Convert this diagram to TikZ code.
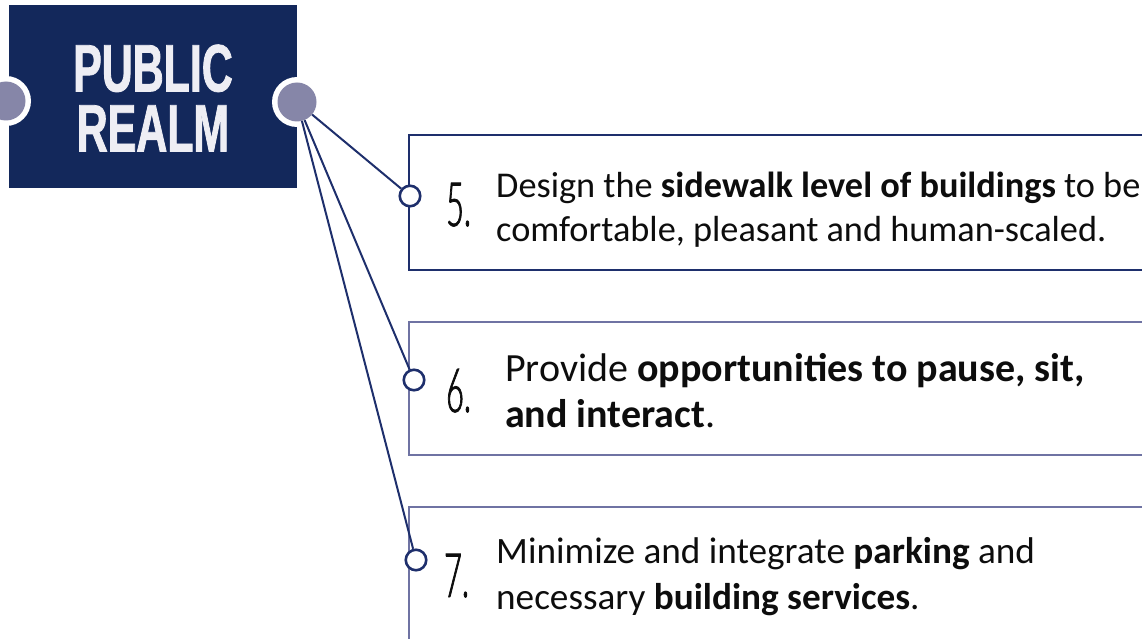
\documentclass[tikz,border=0pt]{standalone}
\usepackage{fontspec}
\setmainfont{Carlito}
\newfontfamily\titlefont[FakeStretch=0.64,FakeBold=1.2]{Liberation Sans}
\newfontfamily\numfont[FakeStretch=0.5,FakeBold=1.2]{Lato Light}
\definecolor{navy}{HTML}{13285B}
\definecolor{linec}{HTML}{1E2F6C}
\definecolor{greyc}{HTML}{8686A8}
\definecolor{lavb}{HTML}{6F73A3}
\definecolor{titlec}{HTML}{EEEEF4}
\definecolor{txt}{HTML}{0D0D0D}
\tikzset{
  box5style/.style={draw=linec, line width=2.6pt},
  boxlav/.style={draw=lavb, line width=2.6pt},
  ring/.style={circle, fill=white, minimum size=50pt, inner sep=0pt},
  knob/.style={circle, fill=greyc, minimum size=39pt, inner sep=0pt},
  smallc/.style={circle, draw=linec, line width=2.6pt, fill=white, minimum size=20.5pt, inner sep=0pt},
  conn/.style={draw=linec, line width=2pt},
  numtext/.style={anchor=base west, inner sep=0pt, font=\numfont\fontsize{61}{62}\selectfont, text=txt},
  bodytext/.style={anchor=base west, inner sep=0pt, font=\fontsize{36.3}{44}\selectfont, text=txt},
  bodysix/.style={anchor=base west, inner sep=0pt, font=\fontsize{40}{46}\selectfont, text=txt},
  bodyseven/.style={anchor=base west, inner sep=0pt, font=\fontsize{37.2}{46}\selectfont, text=txt},
  titletext/.style={anchor=center, align=center, inner sep=0pt, font=\titlefont\bfseries\fontsize{67}{60}\selectfont, text=titlec}
}
\begin{document}
\begin{tikzpicture}[x=1pt,y=-1pt]
\useasboundingbox (0,0) rectangle (1142,639);
\clip (0,0) rectangle (1142,639);
% title block
\fill[navy] (9,5) rectangle (297,188);
\node[titletext] (title) at (153,98) {PUBLIC\\REALM};
\node[ring] (lring) at (6,101) {};
\node[knob] (lknob) at (6,101) {};
\node[ring] (rring) at (297,102) {};
\node[knob] (rknob) at (297,102) {};
% boxes
\draw[box5style] (409,135) rectangle (1170,270);
\draw[boxlav] (409,322) rectangle (1170,455);
\draw[boxlav] (409,507) rectangle (1170,700);
% small circles
\node[smallc] (c5) at (410,196) {};
\node[smallc] (c6) at (414,380) {};
\node[smallc] (c7) at (416,560) {};
% connectors
\draw[conn] (rknob) -- (c5);
\draw[conn] (rknob) -- (c6);
\draw[conn] (rknob) -- (c7);
% numbers
\node[numtext] (n5) at (446,226) {5.};
\node[numtext] (n6) at (446,412) {6.};
\node[numtext] (n7) at (444,597) {7.};
% texts
\node[bodytext] (t5a) at (496,197) {Design the \textbf{sidewalk level of buildings} to be};
\node[bodytext] (t5b) at (496,241) {comfortable, pleasant and human-scaled.};
\node[bodysix] (t6a) at (505,381) {Provide \textbf{opportunities to pause, sit,}};
\node[bodysix] (t6b) at (505,427) {\textbf{and interact}.};
\node[bodyseven] (t7a) at (496,563) {Minimize and integrate \textbf{parking} and};
\node[bodyseven] (t7b) at (496,609) {necessary \textbf{building services}.};
\end{tikzpicture}
\end{document}
